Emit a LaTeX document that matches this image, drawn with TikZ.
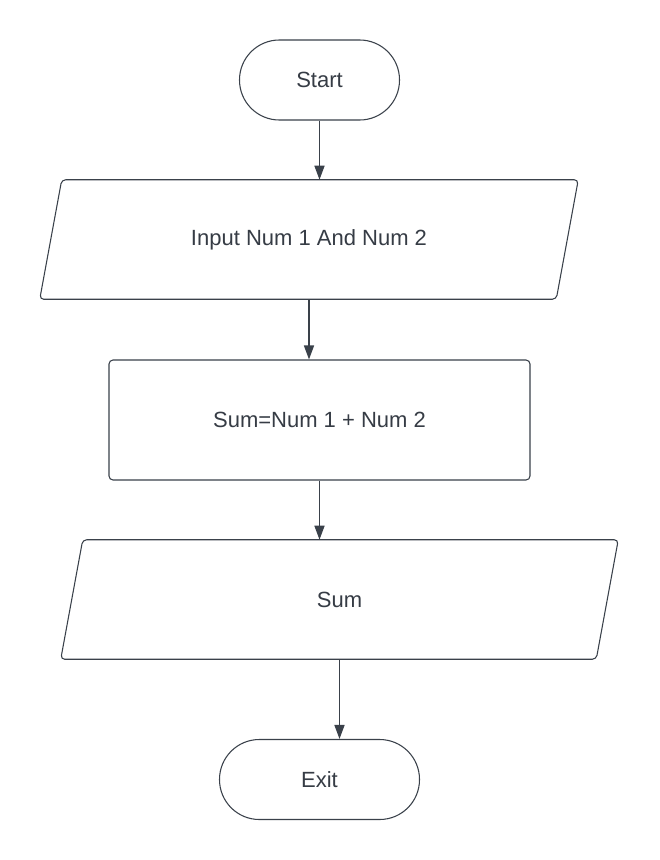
\documentclass[tikz,border=0pt]{standalone}
\usepackage{fontspec}
\setmainfont{Liberation Sans}
\usepackage{tikz}
\usetikzlibrary{arrows.meta,calc}
\definecolor{linegray}{HTML}{3A414A}
\definecolor{textgray}{HTML}{363C45}
\tikzset{
  terminal/.style={draw=linegray,line width=0.8pt,rounded corners=29.9pt,
    minimum width=120pt,minimum height=60pt,inner sep=0pt},
  process/.style={draw=linegray,line width=0.8pt,rounded corners=3pt,
    minimum width=315.75pt,minimum height=90pt,inner sep=0pt},
  iobox/.style={minimum height=89.25pt,inner sep=0pt},
  slant/.style={draw=linegray,line width=0.8pt,rounded corners=3pt},
  arr/.style={draw=linegray,line width=1.1pt,-{Triangle[length=10.5pt,width=7.5pt]}}
}
\begin{document}
\begin{tikzpicture}[x=0.75pt,y=-0.75pt,font=\fontsize{16.5}{20}\selectfont,text=textgray]
\useasboundingbox[fill=white] (0,0) rectangle (660,860);
% nodes
\node[terminal] (startnode) at (319.5,80) {Start};
\node[iobox,minimum width=403.5pt] (inputnode) at (309,239.5) {Input Num 1 And Num 2};
\node[process] (sumnode) at (319.5,420) {Sum=Num 1 + Num 2};
\node[iobox,minimum width=417.75pt] (outputnode) at (339.5,599.5) {Sum};
\node[terminal,minimum width=150pt] (exitnode) at (319.5,779.5) {Exit};
% parallelograms
\draw[slant] ([xshift=16.5pt]inputnode.north west) -- (inputnode.north east)
  -- ([xshift=-16.5pt]inputnode.south east) -- (inputnode.south west) -- cycle;
\draw[slant] ([xshift=16.5pt]outputnode.north west) -- (outputnode.north east)
  -- ([xshift=-16.5pt]outputnode.south east) -- (outputnode.south west) -- cycle;
% arrows
\draw[arr] (startnode.south) -- (startnode.south |- inputnode.north);
\draw[arr] (inputnode.south) -- (inputnode.south |- sumnode.north);
\draw[arr] (sumnode.south) -- (sumnode.south |- outputnode.north);
\draw[arr] (outputnode.south) -- (outputnode.south |- exitnode.north);
\end{tikzpicture}
\end{document}
